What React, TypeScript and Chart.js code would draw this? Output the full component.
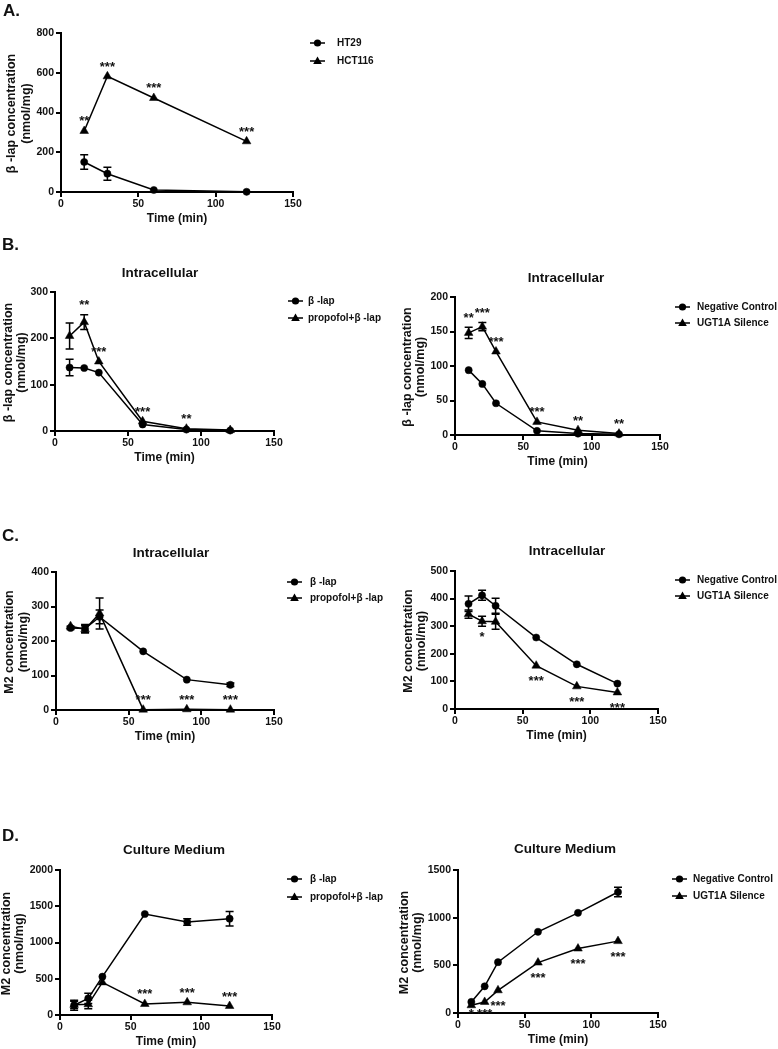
import React, { useEffect, useRef } from 'react';
import { Chart, registerables } from 'chart.js';

Chart.register(...registerables);

const FONT = '"Liberation Sans", Arial, Helvetica, sans-serif';
const INK = '#111';

// ---------------- Data ----------------
// Panel A
const timeA = [15, 30, 60, 120];
const ht29 = [151, 92, 10, 1];
const ht29Err = [37, 33, 0, 0];
const hct116 = [307, 582, 473, 255];
const hct116Err = [0, 0, 0, 0];
const sigA = ['**', '***', '***', '***'];

// Panels B, C, D share the sampling times
const timeBCD = [10, 20, 30, 60, 90, 120];

// Panel B left (β-lap intracellular)
const bLapB = [137, 136, 126, 14, 3, 1];
const bLapBErr = [18, 0, 0, 0, 0, 0];
const propofolB = [205, 235, 150, 21, 5, 2];
const propofolBErr = [28, 16, 0, 0, 0, 0];
const sigBLeft = ['', '**', '***', '***', '**', ''];

// Panel B right
const negCtrlB = [94, 74, 46, 6, 2, 1];
const negCtrlBErr = [0, 0, 0, 0, 0, 0];
const ugtB = [148, 157, 121, 19, 7, 2];
const ugtBErr = [8, 6, 0, 0, 0, 0];
const sigBRight = ['**', '***', '***', '***', '**', '**'];

// Panel C left (M2 intracellular)
const bLapC = [238, 236, 270, 170, 88, 73];
const bLapCErr = [5, 12, 20, 0, 0, 5];
const propofolC = [243, 234, 280, 1, 2, 1];
const propofolCErr = [0, 10, 45, 0, 0, 0];
const sigCLeft = ['', '', '', '***', '***', '***'];

// Panel C right
const negCtrlC = [381, 412, 374, 259, 162, 92];
const negCtrlCErr = [28, 18, 27, 0, 0, 0];
const ugtC = [344, 318, 316, 157, 82, 60];
const ugtCErr = [15, 18, 27, 0, 0, 0];
const sigCRight = ['', '*', '', '***', '***', '***'];

// Panel D left (M2 culture medium)
const bLapD = [135, 230, 529, 1393, 1283, 1329];
const bLapDErr = [70, 70, 0, 0, 45, 100];
const propofolD = [140, 147, 450, 152, 175, 124];
const propofolDErr = [50, 60, 0, 0, 0, 0];
const sigDLeft = ['', '', '', '***', '***', '***'];

// Panel D right
const negCtrlD = [116, 280, 533, 852, 1051, 1269];
const negCtrlDErr = [0, 0, 0, 0, 0, 50];
const ugtD = [81, 116, 238, 529, 676, 754];
const ugtDErr = [0, 0, 0, 0, 0, 0];
const sigDRight = ['*', '***', '***', '***', '***', '***'];

// Axis ranges / labels
const xMax = 150;
const xStep = 50;
const yTitleBLap = ['β -lap concentration', '(nmol/mg)'];
const yTitleM2 = ['M2 concentration', '(nmol/mg)'];
const xTitle = 'Time (min)';

// ---------------- Layout ----------------
type Marker = 'circle' | 'triangle';
interface Series { label: string; values: number[]; errors: number[]; marker: Marker }
interface Panel {
  id: string;
  box: { left: number; top: number; width: number; height: number };
  plot: { l: number; t: number; r: number; b: number };
  times: number[];
  yMax: number;
  yStep: number;
  yTitle: string[];
  yTitleX: [number, number];
  title: string | null;
  titleAt: [number, number];
  series: Series[];
  sig: string[];
  sigBelow: boolean;
  legend: { x: number; tx: number; y1: number; y2: number };
}

const panels: Panel[] = [
  {
    id: 'A',
    box: { left: 0, top: 0, width: 389, height: 240 },
    plot: { l: 61, t: 33, r: 293, b: 192 },
    times: timeA, yMax: 800, yStep: 200,
    yTitle: yTitleBLap, yTitleX: [12, 27],
    title: null, titleAt: [0, 0],
    series: [
      { label: 'HT29', values: ht29, errors: ht29Err, marker: 'circle' },
      { label: 'HCT116', values: hct116, errors: hct116Err, marker: 'triangle' },
    ],
    sig: sigA, sigBelow: false,
    legend: { x: 310, tx: 337, y1: 43, y2: 61 },
  },
  {
    id: 'BL',
    box: { left: 0, top: 240, width: 389, height: 230 },
    plot: { l: 55, t: 292, r: 274, b: 431 },
    times: timeBCD, yMax: 300, yStep: 100,
    yTitle: yTitleBLap, yTitleX: [9, 22],
    title: 'Intracellular', titleAt: [160, 273],
    series: [
      { label: 'β -lap', values: bLapB, errors: bLapBErr, marker: 'circle' },
      { label: 'propofol+β -lap', values: propofolB, errors: propofolBErr, marker: 'triangle' },
    ],
    sig: sigBLeft, sigBelow: false,
    legend: { x: 288, tx: 308, y1: 301, y2: 318 },
  },
  {
    id: 'BR',
    box: { left: 389, top: 240, width: 389, height: 230 },
    plot: { l: 455, t: 297, r: 660, b: 435 },
    times: timeBCD, yMax: 200, yStep: 50,
    yTitle: yTitleBLap, yTitleX: [408, 421],
    title: 'Intracellular', titleAt: [566, 278],
    series: [
      { label: 'Negative Control', values: negCtrlB, errors: negCtrlBErr, marker: 'circle' },
      { label: 'UGT1A Silence', values: ugtB, errors: ugtBErr, marker: 'triangle' },
    ],
    sig: sigBRight, sigBelow: false,
    legend: { x: 675, tx: 697, y1: 307, y2: 323 },
  },
  {
    id: 'CL',
    box: { left: 0, top: 500, width: 389, height: 260 },
    plot: { l: 56, t: 572, r: 274, b: 710 },
    times: timeBCD, yMax: 400, yStep: 100,
    yTitle: yTitleM2, yTitleX: [10, 24],
    title: 'Intracellular', titleAt: [171, 553],
    series: [
      { label: 'β -lap', values: bLapC, errors: bLapCErr, marker: 'circle' },
      { label: 'propofol+β -lap', values: propofolC, errors: propofolCErr, marker: 'triangle' },
    ],
    sig: sigCLeft, sigBelow: false,
    legend: { x: 287, tx: 310, y1: 582, y2: 598 },
  },
  {
    id: 'CR',
    box: { left: 389, top: 500, width: 389, height: 260 },
    plot: { l: 455, t: 571, r: 658, b: 709 },
    times: timeBCD, yMax: 500, yStep: 100,
    yTitle: yTitleM2, yTitleX: [409, 422],
    title: 'Intracellular', titleAt: [567, 551],
    series: [
      { label: 'Negative Control', values: negCtrlC, errors: negCtrlCErr, marker: 'circle' },
      { label: 'UGT1A Silence', values: ugtC, errors: ugtCErr, marker: 'triangle' },
    ],
    sig: sigCRight, sigBelow: true,
    legend: { x: 675, tx: 697, y1: 580, y2: 596 },
  },
  {
    id: 'DL',
    box: { left: 0, top: 800, width: 389, height: 249 },
    plot: { l: 60, t: 870, r: 272, b: 1015 },
    times: timeBCD, yMax: 2000, yStep: 500,
    yTitle: yTitleM2, yTitleX: [7, 20],
    title: 'Culture Medium', titleAt: [174, 850],
    series: [
      { label: 'β -lap', values: bLapD, errors: bLapDErr, marker: 'circle' },
      { label: 'propofol+β -lap', values: propofolD, errors: propofolDErr, marker: 'triangle' },
    ],
    sig: sigDLeft, sigBelow: false,
    legend: { x: 287, tx: 310, y1: 879, y2: 897 },
  },
  {
    id: 'DR',
    box: { left: 389, top: 800, width: 389, height: 249 },
    plot: { l: 458, t: 870, r: 658, b: 1013 },
    times: timeBCD, yMax: 1500, yStep: 500,
    yTitle: yTitleM2, yTitleX: [405, 418],
    title: 'Culture Medium', titleAt: [565, 849],
    series: [
      { label: 'Negative Control', values: negCtrlD, errors: negCtrlDErr, marker: 'circle' },
      { label: 'UGT1A Silence', values: ugtD, errors: ugtDErr, marker: 'triangle' },
    ],
    sig: sigDRight, sigBelow: true,
    legend: { x: 672, tx: 693, y1: 879, y2: 896 },
  },
];

const panelLetters = [
  { text: 'A.', left: 3, top: 2 },
  { text: 'B.', left: 2, top: 236 },
  { text: 'C.', left: 2, top: 527 },
  { text: 'D.', left: 2, top: 827 },
];

const CIRCLE_R = 3.6;
const TRI_R = 5;

function drawMarker(ctx: CanvasRenderingContext2D, kind: Marker, x: number, y: number) {
  ctx.beginPath();
  if (kind === 'circle') {
    ctx.arc(x, y, CIRCLE_R, 0, Math.PI * 2);
  } else {
    for (let k = 0; k < 3; k++) {
      const a = -Math.PI / 2 + (k * 2 * Math.PI) / 3;
      const px = x + TRI_R * Math.cos(a);
      const py = y + TRI_R * Math.sin(a);
      if (k === 0) ctx.moveTo(px, py);
      else ctx.lineTo(px, py);
    }
    ctx.closePath();
  }
  ctx.fillStyle = '#000';
  ctx.fill();
}

function PanelChart({ panel }: { panel: Panel }) {
  const ref = useRef<HTMLCanvasElement | null>(null);

  useEffect(() => {
    const canvas = ref.current;
    if (!canvas) return;
    const { box, plot } = panel;
    const L = plot.l - box.left;
    const T = plot.t - box.top;
    const R = plot.r - box.left;
    const B = plot.b - box.top;

    const decor = {
      id: 'decor' + panel.id,
      afterDatasetsDraw(chart: any) {
        const ctx: CanvasRenderingContext2D = chart.ctx;
        const ys = chart.scales.y;
        ctx.save();
        ctx.strokeStyle = '#000';
        ctx.lineWidth = 1.5;
        panel.series.forEach((s, di) => {
          const meta = chart.getDatasetMeta(di);
          meta.data.forEach((pt: any, j: number) => {
            const e = s.errors[j];
            if (!e) return;
            const yt = ys.getPixelForValue(s.values[j] + e);
            const yb = ys.getPixelForValue(Math.max(0, s.values[j] - e));
            ctx.beginPath();
            ctx.moveTo(pt.x, yt);
            ctx.lineTo(pt.x, yb);
            ctx.moveTo(pt.x - 4, yt);
            ctx.lineTo(pt.x + 4, yt);
            ctx.moveTo(pt.x - 4, yb);
            ctx.lineTo(pt.x + 4, yb);
            ctx.stroke();
          });
        });
        ctx.restore();
      },
      afterDraw(chart: any) {
        const ctx: CanvasRenderingContext2D = chart.ctx;
        const ys = chart.scales.y;
        const area = chart.chartArea;
        ctx.save();
        ctx.fillStyle = INK;

        // significance labels (placed on the second series)
        const ref2 = panel.series[1];
        const meta = chart.getDatasetMeta(1);
        ctx.font = `bold 13px ${FONT}`;
        ctx.textAlign = 'center';
        ctx.textBaseline = 'alphabetic';
        panel.sig.forEach((lab, j) => {
          if (!lab) return;
          const pt = meta.data[j];
          let cy: number;
          if (panel.sigBelow) {
            cy = Math.min(pt.y + 12, area.bottom - 3);
          } else {
            const top = ys.getPixelForValue(ref2.values[j] + ref2.errors[j]);
            cy = Math.min(pt.y, top) - 13;
          }
          ctx.fillText(lab, pt.x, cy + 7.5);
        });

        // chart title
        if (panel.title) {
          ctx.font = `bold 13.5px ${FONT}`;
          ctx.textAlign = 'center';
          ctx.textBaseline = 'middle';
          ctx.fillText(panel.title, panel.titleAt[0] - box.left, panel.titleAt[1] - box.top);
        }

        // x axis title
        ctx.font = `bold 12px ${FONT}`;
        ctx.textAlign = 'center';
        ctx.textBaseline = 'middle';
        ctx.fillText(xTitle, (area.left + area.right) / 2, area.bottom + 27);

        // y axis title (two rotated lines)
        ctx.font = `bold 12.5px ${FONT}`;
        const yc = (area.top + area.bottom) / 2 + 1;
        panel.yTitle.forEach((line, k) => {
          ctx.save();
          ctx.translate(panel.yTitleX[k] - box.left, yc);
          ctx.rotate(-Math.PI / 2);
          ctx.fillText(line, 0, 0);
          ctx.restore();
        });

        // legend
        const lg = panel.legend;
        const rows = [lg.y1, lg.y2];
        panel.series.forEach((s, i) => {
          const y = rows[i] - box.top;
          const x0 = lg.x - box.left;
          ctx.strokeStyle = '#000';
          ctx.lineWidth = 1.5;
          ctx.beginPath();
          ctx.moveTo(x0, y);
          ctx.lineTo(x0 + 15, y);
          ctx.stroke();
          drawMarker(ctx, s.marker, x0 + 7.5, y + (s.marker === 'triangle' ? 0.5 : 0));
          ctx.fillStyle = INK;
          ctx.font = `bold 10px ${FONT}`;
          ctx.textAlign = 'left';
          ctx.textBaseline = 'middle';
          ctx.fillText(s.label, lg.tx - box.left, y);
        });
        ctx.restore();
      },
    };

    const tickFont = { family: FONT, size: 10.5, weight: 'bold' as const };

    const chart = new Chart(canvas, {
      type: 'line',
      data: {
        datasets: panel.series.map((s) => ({
          label: s.label,
          data: panel.times.map((t, i) => ({ x: t, y: s.values[i] })),
          borderColor: '#000',
          backgroundColor: '#000',
          borderWidth: 1.5,
          pointStyle: s.marker,
          pointRadius: s.marker === 'triangle' ? TRI_R : CIRCLE_R,
          pointBorderWidth: 0.5,
          pointBorderColor: '#000',
          pointBackgroundColor: '#000',
          tension: 0,
          clip: false as any,
        })),
      },
      options: {
        animation: false,
        responsive: false,
        maintainAspectRatio: false,
        events: [],
        layout: { padding: { left: 0, bottom: 0, top: T, right: box.width - R } },
        plugins: {
          legend: { display: false },
          tooltip: { enabled: false },
          title: { display: false },
        },
        scales: {
          x: {
            type: 'linear',
            min: 0,
            max: xMax,
            ticks: { stepSize: xStep, font: tickFont, color: INK, padding: 1, maxRotation: 0, callback: (v: any) => String(v) },
            grid: { drawOnChartArea: false, drawTicks: true, tickLength: 5, color: '#000', lineWidth: 2 },
            border: { display: true, color: '#000', width: 2 },
            afterFit: (scale: any) => { scale.height = box.height - B; },
          },
          y: {
            type: 'linear',
            min: 0,
            max: panel.yMax,
            ticks: { stepSize: panel.yStep, font: tickFont, color: INK, padding: 2, callback: (v: any) => String(v) },
            grid: { drawOnChartArea: false, drawTicks: true, tickLength: 5, color: '#000', lineWidth: 2 },
            border: { display: true, color: '#000', width: 2 },
            afterFit: (scale: any) => { scale.width = L; },
          },
        },
      } as any,
      plugins: [decor],
    });

    return () => chart.destroy();
  }, [panel]);

  const { box } = panel;
  return (
    <canvas
      ref={ref}
      width={box.width}
      height={box.height}
      style={{ position: 'absolute', left: box.left, top: box.top, width: box.width, height: box.height }}
    />
  );
}

export default function App() {
  return (
    <div style={{ position: 'absolute', left: 0, top: 0, width: 778, height: 1049, background: '#fff', overflow: 'hidden' }}>
      {panels.map((p) => (
        <PanelChart key={p.id} panel={p} />
      ))}
      {panelLetters.map((l) => (
        <div
          key={l.text}
          style={{
            position: 'absolute',
            left: l.left,
            top: l.top,
            fontFamily: FONT,
            fontWeight: 'bold',
            fontSize: 17,
            lineHeight: '17px',
            color: INK,
          }}
        >
          {l.text}
        </div>
      ))}
    </div>
  );
}
